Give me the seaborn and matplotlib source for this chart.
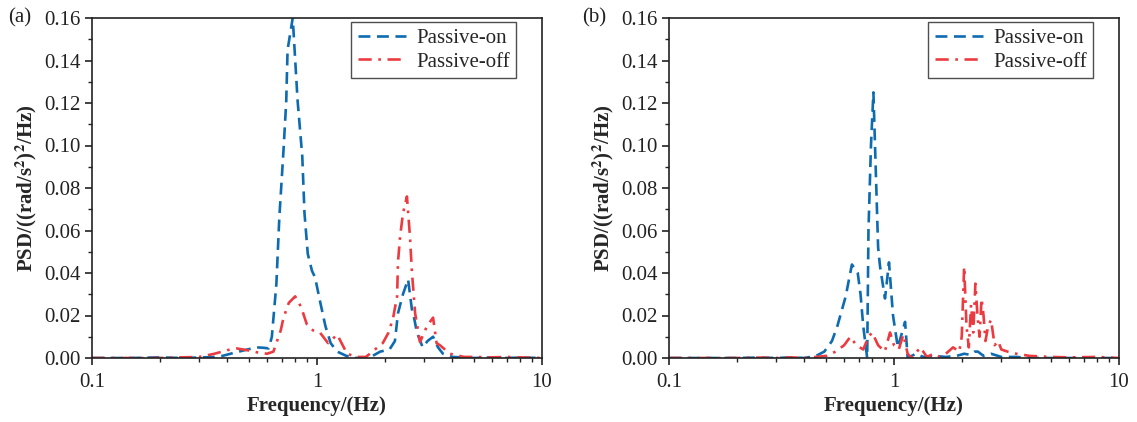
import numpy as np
import pandas as pd
import matplotlib
matplotlib.use("Agg")
import matplotlib.pyplot as plt
from matplotlib.ticker import MultipleLocator, LogLocator, NullFormatter, FixedLocator, FixedFormatter
import seaborn as sns

# ---------------- data ----------------
# Panel (a)
a_on_f = [0.10, 0.15, 0.20, 0.25, 0.30, 0.35, 0.38, 0.43, 0.49, 0.54, 0.58, 0.61, 0.63, 0.66, 0.68,
          0.71, 0.73, 0.74, 0.78, 0.82, 0.86, 0.88, 0.91, 0.95, 0.98, 1.03, 1.09, 1.15, 1.23, 1.35,
          1.5, 1.7, 1.91, 2.1, 2.22, 2.29, 2.41, 2.54, 2.64, 2.70, 2.78, 2.95, 3.10, 3.28, 3.45,
          3.63, 4.0, 5.0, 6.0, 7.0, 8.0, 10.0]
a_on_v = [0.0, 0.0, 0.0003, 0.0, 0.0002, 0.0005, 0.001, 0.0025, 0.004, 0.005, 0.0048, 0.0045, 0.010,
          0.035, 0.066, 0.098, 0.121, 0.145, 0.160, 0.121, 0.095, 0.068, 0.049, 0.041, 0.038, 0.027,
          0.015, 0.007, 0.003, 0.001, 0.0, 0.0, 0.003, 0.004, 0.008, 0.021, 0.030, 0.037, 0.023,
          0.019, 0.012, 0.005, 0.008, 0.010, 0.005, 0.002, 0.0005, 0.0, 0.0003, 0.0, 0.0002, 0.0]

a_off_f = [0.10, 0.15, 0.20, 0.25, 0.30, 0.35, 0.41, 0.44, 0.50, 0.55, 0.60, 0.64, 0.69, 0.71, 0.75,
           0.80, 0.85, 0.90, 0.96, 1.03, 1.12, 1.23, 1.36, 1.5, 1.65, 1.81, 1.96, 2.08, 2.18, 2.27,
           2.29, 2.34, 2.41, 2.51, 2.59, 2.64, 2.73, 2.87, 3.08, 3.28, 3.40, 3.52, 3.90, 4.5,
           5.0, 6.0, 7.0, 8.0, 10.0]
a_off_v = [0.0, 0.0, 0.0, 0.0003, 0.0005, 0.002, 0.004, 0.0045, 0.0035, 0.0025, 0.002, 0.003, 0.013,
           0.019, 0.026, 0.029, 0.024, 0.016, 0.013, 0.012, 0.007, 0.011, 0.002, 0.0005, 0.0005,
           0.004, 0.007, 0.012, 0.019, 0.029, 0.045, 0.057, 0.068, 0.076, 0.057, 0.041, 0.021,
           0.0075, 0.015, 0.019, 0.007, 0.006, 0.002, 0.0005, 0.0005, 0.0003, 0.0005, 0.0003, 0.0]

# Panel (b)
b_on_f = [0.10, 0.15, 0.20, 0.25, 0.30, 0.35, 0.40, 0.45, 0.49, 0.53, 0.56, 0.61, 0.65, 0.69, 0.71,
          0.73, 0.76, 0.77, 0.79, 0.81, 0.85, 0.867, 0.912, 0.95, 0.99, 1.04, 1.12, 1.15, 1.25,
          1.35, 1.5, 1.7, 1.9, 2.05, 2.18, 2.28, 2.36, 2.5, 2.7, 3.0, 3.5, 4.0, 5.0, 7.0, 10.0]
b_on_v = [0.0, 0.0, 0.0, 0.0002, 0.0, 0.0003, 0.0, 0.001, 0.003, 0.008, 0.015, 0.029, 0.044, 0.040,
          0.030, 0.015, 0.0, 0.060, 0.100, 0.125, 0.052, 0.043, 0.028, 0.045, 0.020, 0.005, 0.017,
          0.0, 0.002, 0.0005, 0.001, 0.0005, 0.001, 0.002, 0.0015, 0.003, 0.003, 0.001, 0.002,
          0.0005, 0.0005, 0.0, 0.0, 0.0, 0.0]

b_off_f = [0.10, 0.15, 0.20, 0.25, 0.30, 0.35, 0.40, 0.45, 0.50, 0.55, 0.60, 0.64, 0.68, 0.73, 0.77,
           0.80, 0.85, 0.91, 0.96, 1.00, 1.05, 1.10, 1.15, 1.20, 1.31, 1.40, 1.50, 1.60, 1.70, 1.83,
           1.95, 2.00, 2.05, 2.10, 2.15, 2.20, 2.25, 2.30, 2.35, 2.40, 2.45, 2.50, 2.55, 2.62, 2.70,
           2.80, 2.90, 3.00, 3.20, 3.50, 4.0, 5.0, 6.0, 8.0, 10.0]
b_off_v = [0.0, 0.0, 0.0, 0.0002, 0.0, 0.0003, 0.0, 0.0005, 0.001, 0.003, 0.006, 0.010, 0.006,
           0.004, 0.010, 0.012, 0.006, 0.003, 0.012, 0.006, 0.004, 0.011, 0.002, 0.0, 0.005,
           0.0005, 0.002, 0.0005, 0.002, 0.005, 0.003, 0.010, 0.043, 0.015, 0.005, 0.025, 0.012,
           0.035, 0.020, 0.010, 0.028, 0.020, 0.008, 0.015, 0.018, 0.006, 0.008, 0.004, 0.003,
           0.002, 0.001, 0.0005, 0.0003, 0.0005, 0.0]

series_labels = ["Passive-on", "Passive-off"]
panel_labels = ["(a)", "(b)"]
x_label = "Frequency/(Hz)"
y_label = r"PSD/((rad/s$^{\mathbf{2}}$)$^{\mathbf{2}}$/Hz)"
y_ticks = [0.00, 0.02, 0.04, 0.06, 0.08, 0.10, 0.12, 0.14, 0.16]
x_ticks = [0.1, 1, 10]
x_ticklabels = ["0.1", "1", "10"]

# ---------------- style ----------------
sns.set_style("ticks")
plt.rcParams["font.family"] = ["Liberation Serif", "DejaVu Serif"]
plt.rcParams["mathtext.fontset"] = "stix"
plt.rcParams["axes.linewidth"] = 1.2
plt.rcParams["xtick.direction"] = "out"
plt.rcParams["ytick.direction"] = "out"

BLUE = "#0e6bb0"
RED = "#ec3b40"
FS = 15

fig = plt.figure(figsize=(11.37, 4.22), dpi=100)
W, H = 1137, 422
ax_a = fig.add_axes([92 / W, 1 - 358 / H, 450 / W, 340 / H])
ax_b = fig.add_axes([669 / W, 1 - 358 / H, 450 / W, 340 / H])

panels = [
    (ax_a, a_on_f, a_on_v, a_off_f, a_off_v),
    (ax_b, b_on_f, b_on_v, b_off_f, b_off_v),
]

for i, (ax, fon, von, foff, voff) in enumerate(panels):
    sns.lineplot(x=fon, y=von, ax=ax, color=BLUE, linewidth=1.9,
                 linestyle=(0, (4.5, 2.5)), label=series_labels[0], sort=True)
    sns.lineplot(x=foff, y=voff, ax=ax, color=RED, linewidth=1.9,
                 linestyle=(0, (5, 2.5, 1, 2.5)), label=series_labels[1], sort=True)
    ax.set_xscale("log")
    ax.set_xlim(0.1, 10)
    ax.set_ylim(0, 0.16)
    ax.xaxis.set_major_locator(FixedLocator(x_ticks))
    ax.xaxis.set_major_formatter(FixedFormatter(x_ticklabels))
    ax.xaxis.set_minor_locator(LogLocator(base=10, subs=np.arange(2, 10) * 1.0))
    ax.xaxis.set_minor_formatter(NullFormatter())
    ax.yaxis.set_major_locator(FixedLocator(y_ticks))
    ax.yaxis.set_major_formatter(plt.FuncFormatter(lambda v, p: f"{v:.2f}"))
    ax.yaxis.set_minor_locator(MultipleLocator(0.01))
    ax.tick_params(axis="both", which="major", length=5, width=1.2, labelsize=FS,
                   color="#222222", labelcolor="#222222")
    ax.tick_params(axis="x", which="major", pad=6)
    ax.tick_params(axis="y", which="major", pad=3)
    ax.tick_params(axis="both", which="minor", length=3, width=1.0, color="#222222")
    ax.tick_params(top=False, right=False, which="both")
    for s in ax.spines.values():
        s.set_color("#222222")
        s.set_linewidth(1.2)
    ax.set_xlabel(x_label, fontsize=FS, fontweight="bold", labelpad=3)
    ax.set_ylabel(y_label, fontsize=FS, fontweight="bold", labelpad=4)
    leg = ax.legend(loc="upper right", bbox_to_anchor=(1 - 26 / 450, 1 - 4 / 340),
                    borderaxespad=0, fontsize=FS, frameon=True, fancybox=False,
                    edgecolor="#222222", handlelength=2.3, handletextpad=0.5,
                    labelspacing=0.2, borderpad=0.3)
    leg.get_frame().set_linewidth(1.0)

fig.text(8 / W, 1 - 18 / H, panel_labels[0], fontsize=FS, va="center", ha="left", color="#222222")
fig.text(582 / W, 1 - 18 / H, panel_labels[1], fontsize=FS, va="center", ha="left", color="#222222")

fig.savefig("out.png", dpi=100)
